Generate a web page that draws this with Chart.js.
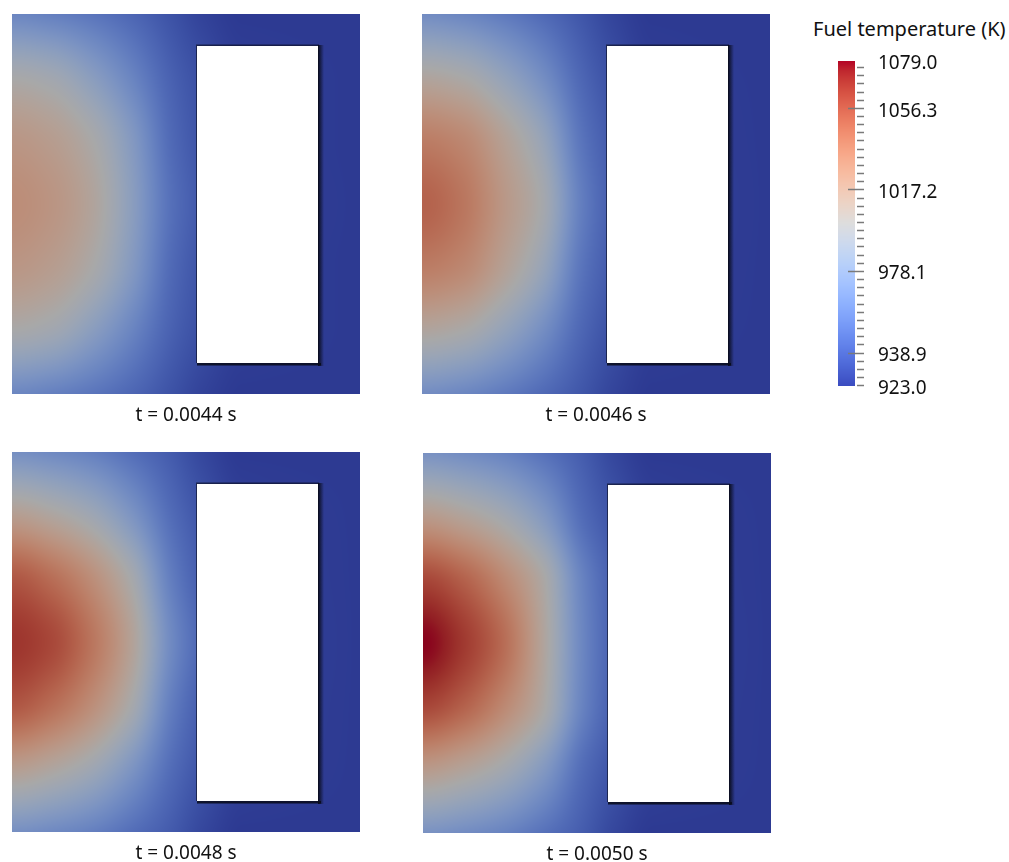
<!DOCTYPE html>
<html>
<head>
<meta charset="utf-8">
<script src="https://cdn.jsdelivr.net/npm/chart.js@4.4.1/dist/chart.umd.min.js"></script>
<style>
  html, body { margin: 0; padding: 0; background: #fff; }
  body { width: 1009px; height: 862px; overflow: hidden; position: relative; font-family: "Noto Sans", sans-serif; }
  .panel { position: absolute; }
  #cbarBox { position: absolute; left: 800px; top: 0; }
  #cbTitle { position: absolute; left: 813px; top: 17px; font-size: 20px; line-height: 24px; color: #111; white-space: nowrap; }
</style>
</head>
<body>
<div class="panel" style="left:12px;top:14px"><canvas id="p1" width="348" height="420"></canvas></div>
<div class="panel" style="left:422px;top:14px"><canvas id="p2" width="348" height="420"></canvas></div>
<div class="panel" style="left:12px;top:452px"><canvas id="p3" width="348" height="420"></canvas></div>
<div class="panel" style="left:423px;top:453px"><canvas id="p4" width="348" height="420"></canvas></div>
<div id="cbTitle">Fuel temperature (K)</div>
<div id="cbarBox"><canvas id="cbar" width="209" height="420"></canvas></div>

<script>
// sample positions: distance from the left axis, distance from mid-height
const colX = [0, 40, 80, 120, 160, 190, 230, 348];
const rowY = [0, 60, 120, 190];

const times = ['0.0044', '0.0046', '0.0048', '0.0050'];

const temp0044 = [
    [1026, 1021, 1008, 981, 949, 937, 926, 923],
    [1020, 1015, 1002, 977, 946, 935, 925, 923],
    [1003, 998, 983, 963, 942, 933, 925, 923],
    [962, 958, 952, 944, 934, 927, 923, 923]
];
const temp0046 = [
    [1049, 1040, 1020, 999, 957, 940, 927, 923],
    [1037, 1031, 1013, 990, 952, 938, 926, 923],
    [1010, 1005, 990, 970, 945, 934, 925, 923],
    [966, 962, 955, 946, 936, 928, 923, 923]
];
const temp0048 = [
    [1067, 1060, 1040, 1010, 964, 944, 928, 923],
    [1055, 1045, 1027, 1000, 957, 940, 927, 923],
    [1018, 1010, 997, 975, 948, 936, 926, 923],
    [968, 964, 958, 948, 938, 929, 923, 923]
];
const temp0050 = [
    [1079, 1066, 1045, 1008, 962, 942, 928, 923],
    [1062, 1051, 1031, 1004, 960, 941, 927, 923],
    [1021, 1013, 1000, 979, 948, 936, 926, 923],
    [970, 966, 960, 950, 939, 929, 923, 923]
];

const cbTicks = [923.0, 938.9, 978.1, 1017.2, 1056.3, 1079.0];
const tMin = 923.0;
const tMax = 1079.0;

// plate and gap geometry (same units as colX / rowY)
const plate = { w: 348, h: 380 };
const gap = { x0: 185, x1: 306, top: 158, bottom: -159 };

// paraview cool to warm
const coolwarm = [
    [59,76,192],[68,90,204],[77,104,215],[87,117,225],[98,130,234],[108,142,241],
    [119,154,247],[130,165,251],[141,176,254],[152,185,255],[163,194,255],[174,201,253],
    [184,208,249],[194,213,244],[204,217,238],[213,219,230],[221,221,221],[229,216,209],
    [236,211,197],[241,204,185],[245,196,173],[247,187,160],[247,177,148],[247,166,135],
    [244,154,123],[241,141,111],[236,127,99],[229,112,88],[222,96,77],[213,80,66],
    [203,62,56],[192,40,47],[180,4,38]
];
const shade = 0.76;

function colorFor(t) {
    let s = (t - tMin) / (tMax - tMin);
    s = Math.max(0, Math.min(1, s)) * (coolwarm.length - 1);
    const i = Math.min(coolwarm.length - 2, Math.floor(s));
    const f = s - i;
    return coolwarm[i].map((c, k) => c + (coolwarm[i + 1][k] - c) * f);
}

// monotone cubic through the samples, flat at the symmetry line (index 0)
function slopes(xs, ys) {
    const n = xs.length;
    const h = [], d = [], m = new Array(n).fill(0);
    for (let i = 0; i < n - 1; i++) {
        h.push(xs[i + 1] - xs[i]);
        d.push((ys[i + 1] - ys[i]) / h[i]);
    }
    for (let i = 1; i < n - 1; i++) {
        if (d[i - 1] * d[i] > 0) {
            const w1 = 2 * h[i] + h[i - 1], w2 = h[i] + 2 * h[i - 1];
            m[i] = (w1 + w2) / (w1 / d[i - 1] + w2 / d[i]);
        }
    }
    m[n - 1] = d[n - 2];
    return m;
}

function curve(xs, ys, m, v) {
    v = Math.max(xs[0], Math.min(xs[xs.length - 1], v));
    let i = 0;
    while (i < xs.length - 2 && v > xs[i + 1]) i++;
    const h = xs[i + 1] - xs[i];
    const t = (v - xs[i]) / h;
    const t2 = t * t, t3 = t2 * t;
    return (2 * t3 - 3 * t2 + 1) * ys[i] + (t3 - 2 * t2 + t) * h * m[i]
        + (-2 * t3 + 3 * t2) * ys[i + 1] + (t3 - t2) * h * m[i + 1];
}

function makeField(grid) {
    const rowSlopes = grid.map(row => slopes(colX, row));
    return {
        id: 'field',
        beforeDatasetsDraw(chart) {
            const { ctx, chartArea: a, scales: { x, y } } = chart;
            const w = Math.round(a.right - a.left);
            const h = Math.round(a.bottom - a.top);
            const off = document.createElement('canvas');
            off.width = w;
            off.height = h;
            const octx = off.getContext('2d');
            const img = octx.createImageData(w, h);
            const ys = [];
            for (let py = 0; py < h; py++) ys.push(Math.abs(y.getValueForPixel(a.top + py + 0.5)));

            for (let px = 0; px < w; px++) {
                const xv = x.getValueForPixel(a.left + px + 0.5);
                const col = grid.map((row, j) => curve(colX, row, rowSlopes[j], xv));
                const cm = slopes(rowY, col);
                for (let py = 0; py < h; py++) {
                    const c = colorFor(curve(rowY, col, cm, ys[py]));
                    const k = (py * w + px) * 4;
                    img.data[k] = c[0] * shade;
                    img.data[k + 1] = c[1] * shade;
                    img.data[k + 2] = c[2] * shade;
                    img.data[k + 3] = 255;
                }
            }
            octx.putImageData(img, 0, 0);
            ctx.drawImage(off, a.left, a.top);

            // the gap, white with a dark rim
            const gx0 = x.getPixelForValue(gap.x0);
            const gx1 = x.getPixelForValue(gap.x1);
            const gy0 = y.getPixelForValue(gap.top);
            const gy1 = y.getPixelForValue(gap.bottom);
            ctx.save();
            const sh = ctx.createLinearGradient(gx1, 0, gx1 + 6, 0);
            sh.addColorStop(0, 'rgba(8,10,25,1)');
            sh.addColorStop(1, 'rgba(8,10,25,0)');
            ctx.fillStyle = sh;
            ctx.fillRect(gx1, gy0 - 1, 6, gy1 - gy0 + 4);
            ctx.fillStyle = 'rgba(8,10,25,0.85)';
            ctx.fillRect(gx0, gy1, gx1 - gx0 + 3, 2.5);
            ctx.fillStyle = 'rgba(8,10,25,0.6)';
            ctx.fillRect(gx0 - 1, gy0 - 1.5, gx1 - gx0 + 2, 1.5);
            ctx.fillRect(gx0 - 1, gy0, 1, gy1 - gy0);
            ctx.fillStyle = '#fff';
            ctx.fillRect(gx0, gy0, gx1 - gx0, gy1 - gy0);
            ctx.restore();
        }
    };
}

const grids = [temp0044, temp0046, temp0048, temp0050];
['p1', 'p2', 'p3', 'p4'].forEach((id, n) => {
    new Chart(document.getElementById(id), {
        type: 'scatter',
        data: { datasets: [] },
        options: {
            responsive: false,
            animation: false,
            events: [],
            layout: { padding: 0 },
            plugins: {
                legend: { display: false },
                tooltip: { enabled: false },
                title: {
                    display: true,
                    position: 'bottom',
                    text: 't = ' + times[n] + ' s',
                    color: '#111',
                    font: { family: 'Noto Sans', size: 19, weight: 'normal', lineHeight: 1.2 },
                    padding: { top: 10.5, bottom: 6.7 }
                }
            },
            scales: {
                x: { display: false, min: 0, max: plate.w },
                y: { display: false, min: -plate.h / 2, max: plate.h / 2 }
            }
        },
        plugins: [makeField(grids[n])]
    });
});

const colorBar = {
    id: 'colorBar',
    beforeDatasetsDraw(chart) {
        const { ctx, chartArea: a, scales: { y } } = chart;
        for (let py = Math.floor(a.top); py < a.bottom; py++) {
            const c = colorFor(y.getValueForPixel(py + 0.5));
            ctx.fillStyle = 'rgb(' + c.map(Math.round).join(',') + ')';
            ctx.fillRect(a.left, py, a.right - a.left, 1);
        }

        const step = (cbTicks[2] - cbTicks[1]) / 10;
        const start = cbTicks[1] - step * Math.floor((cbTicks[1] - tMin) / step);
        ctx.strokeStyle = '#7a7a7a';
        ctx.lineWidth = 1.5;
        for (let k = 0; start + k * step <= tMax + 0.01; k++) {
            const v = start + k * step;
            const major = cbTicks.slice(1, -1).some(t => Math.abs(t - v) < step / 3);
            const py = Math.round(y.getPixelForValue(v)) + 0.5;
            ctx.beginPath();
            ctx.moveTo(major ? a.right - 7 : a.right + 2, py);
            ctx.lineTo(a.right + 9, py);
            ctx.stroke();
        }
    }
};

new Chart(document.getElementById('cbar'), {
    type: 'scatter',
    data: { datasets: [] },
    options: {
        responsive: false,
        animation: false,
        events: [],
        layout: { padding: { left: 38, top: 61, bottom: 29, right: 0 } },
        plugins: { legend: { display: false }, tooltip: { enabled: false } },
        scales: {
            x: { display: false },
            y: {
                position: 'right',
                min: tMin,
                max: tMax,
                afterFit: s => { s.width = 154; },
                afterBuildTicks: s => { s.ticks = cbTicks.map(v => ({ value: v })); },
                grid: { display: false, drawTicks: false },
                border: { display: false },
                ticks: {
                    autoSkip: false,
                    padding: 23,
                    labelOffset: 3,
                    color: '#111',
                    font: { family: 'Noto Sans', size: 19 },
                    callback: v => Number(v).toFixed(1)
                }
            }
        }
    },
    plugins: [colorBar]
});
</script>
</body>
</html>
